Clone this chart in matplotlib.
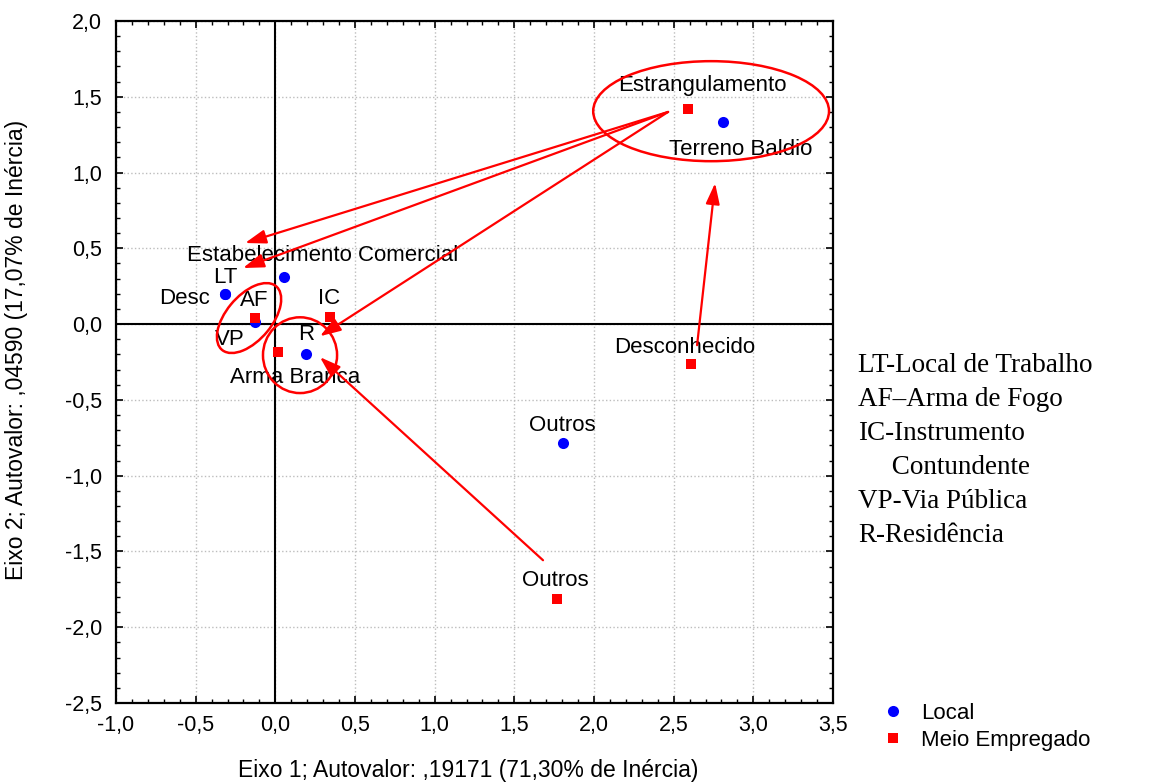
"""
Correspondence analysis map: Local x Meio Empregado.
"""
import numpy as np
import matplotlib
matplotlib.use('Agg')
import matplotlib.pyplot as plt
from matplotlib.patches import Ellipse, FancyArrowPatch
from matplotlib.ticker import MultipleLocator, FuncFormatter

# --- data -------------------------------------------------------------
local_names = ['Terreno Baldio', 'Estabelecimento Comercial', 'LT', 'Desc', 'VP', 'R', 'Outros']
local_x = [2.81, 0.055, -0.316, -0.316, -0.127, 0.193, 1.806]
local_y = [1.333, 0.31, 0.198, 0.198, 0.013, -0.198, -0.785]

meio_names = ['Estrangulamento', 'Desconhecido', 'Outros', 'AF', 'Arma Branca', 'IC']
meio_x = [2.59, 2.61, 1.77, -0.127, 0.017, 0.343]
meio_y = [1.42, -0.264, -1.815, 0.04, -0.185, 0.046]

x_label = 'Eixo 1; Autovalor: ,19171 (71,30% de Inércia)'
y_label = 'Eixo 2; Autovalor: ,04590 (17,07% de Inércia)'

notes = ['LT-Local de Trabalho', 'AF\u2013Arma de Fogo', 'IC-Instrumento',
         '     Contundente', 'VP-Via Pública', 'R-Residência']

# highlighted groups and arrows (data coords)
ellipses = [((2.735, 1.405), 1.48, 0.66, 0),
            ((-0.165, 0.04), 0.54, 0.29, 52),
            ((0.155, -0.205), 0.465, 0.50, 0)]
arrows = [((2.465, 1.40), (-0.19, 0.535)),
          ((2.465, 1.40), (-0.203, 0.37)),
          ((2.465, 1.40), (0.28, -0.08)),
          ((1.68, -1.558), (0.28, -0.218)),
          ((2.647, -0.139), (2.76, 0.93))]

# label offsets in pixels
local_off = {'Terreno Baldio': (18, -27), 'Estabelecimento Comercial': (39, 22),
             'LT': (0, 17), 'Desc': (-40, -4), 'VP': (-25, -17),
             'R': (0, 20), 'Outros': (-1, 18)}
meio_off = {'Estrangulamento': (14, 23), 'Desconhecido': (-7, 17),
            'Outros': (-2, 19), 'AF': (-1, 18), 'Arma Branca': (17, -25),
            'IC': (-1, 19)}

# --- figure -----------------------------------------------------------
plt.rcParams['font.family'] = ['Liberation Sans', 'DejaVu Sans']

fig = plt.figure(figsize=(11.52, 7.83), dpi=100)
ax = fig.add_axes([116/1152, 1-703/783, 717/1152, 682/783])

ax.set_xlim(-1.0, 3.5)
ax.set_ylim(-2.5, 2.0)

ax.xaxis.set_major_locator(MultipleLocator(0.5))
ax.yaxis.set_major_locator(MultipleLocator(0.5))
ax.xaxis.set_minor_locator(MultipleLocator(0.1))
ax.yaxis.set_minor_locator(MultipleLocator(0.1))
fmt = FuncFormatter(lambda v, p: ('%.1f' % v).replace('.', ',').replace('-0,0', '0,0'))
ax.xaxis.set_major_formatter(fmt)
ax.yaxis.set_major_formatter(fmt)
ax.tick_params(which='both', direction='in', top=True, right=True, labelsize=15.5)
ax.tick_params(which='major', length=5, width=1.2)
ax.tick_params(which='minor', length=3, width=1.0)
ax.tick_params(axis='x', pad=9)
ax.tick_params(axis='y', pad=10)
for s in ax.spines.values():
    s.set_linewidth(1.6)

ax.grid(True, which='major', linestyle=':', color='#bdbdbd', linewidth=1.0)
ax.set_axisbelow(True)
ax.axhline(0, color='black', lw=1.5, zorder=1)
ax.axvline(0, color='black', lw=1.5, zorder=1)

sc1 = ax.plot(local_x, local_y, 'o', color='#0000ff', markersize=8,
              markeredgewidth=0, label='Local', zorder=3)[0]
sc2 = ax.plot(meio_x, meio_y, 's', color='#ff0000', markersize=7.2,
              markeredgewidth=0, label='Meio Empregado', zorder=3)[0]

for n, x, y in zip(local_names, local_x, local_y):
    ax.annotate(n, (x, y), xytext=local_off[n], textcoords='offset pixels',
                ha='center', va='center', fontsize=16, zorder=4)
for n, x, y in zip(meio_names, meio_x, meio_y):
    ax.annotate(n, (x, y), xytext=meio_off[n], textcoords='offset pixels',
                ha='center', va='center', fontsize=16, zorder=4)

for c, w, h, a in ellipses:
    ax.add_patch(Ellipse(c, w, h, angle=a, fill=False, edgecolor='#ff0000',
                         lw=1.8, zorder=5))
for start, end in arrows:
    ax.add_patch(FancyArrowPatch(start, end,
                                 arrowstyle='-|>,head_length=0.9,head_width=0.3',
                                 mutation_scale=14, color='#ff0000', lw=1.6,
                                 shrinkA=0, shrinkB=0, zorder=5))

ax.set_xlabel(x_label, fontsize=16.5)
ax.set_ylabel(y_label, fontsize=16.5)
ax.xaxis.label.set_va('center')
ax.yaxis.label.set_va('center')
ax.xaxis.set_label_coords((468-116)/717, (703-771)/682)
ax.yaxis.set_label_coords((17-116)/717, (703-350)/682)

for i, t in enumerate(notes):
    fig.text(858/1152, 1-(366+33.8*i)/783, t, family=['Liberation Serif', 'DejaVu Serif'],
             fontsize=19.5, va='center', ha='left')

fig.legend([sc1, sc2], ['Local', 'Meio Empregado'], loc='center left',
           bbox_to_anchor=(872/1152, 1-727/783), frameon=False, fontsize=16,
           handletextpad=0.8, labelspacing=0.25, borderpad=0, handlelength=0.9)

fig.savefig('out.png', dpi=100)
